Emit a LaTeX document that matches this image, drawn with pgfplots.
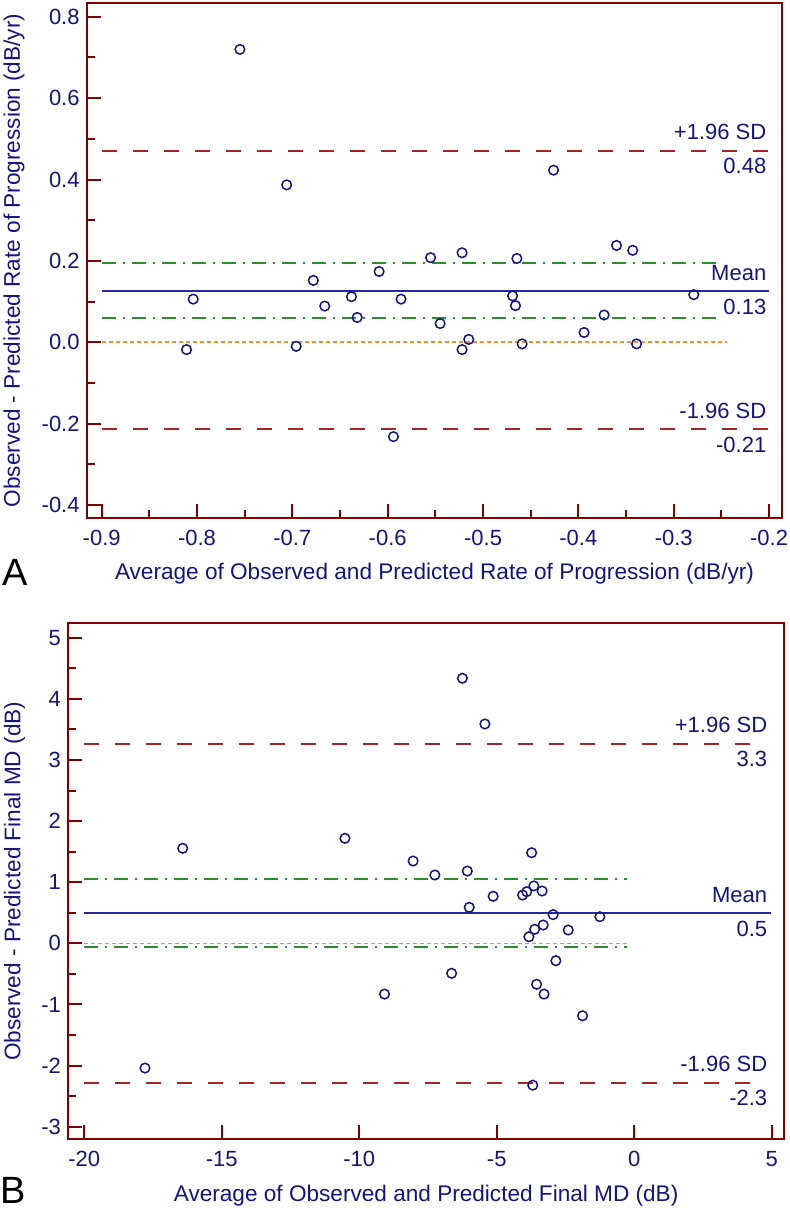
\documentclass[border=0pt]{standalone}
\usepackage{fontspec}
\setmainfont{Liberation Sans}
\usepackage{pgfplots}
\pgfplotsset{compat=1.18}

\definecolor{frame}{RGB}{128,0,0}
\definecolor{navy}{RGB}{20,20,128}
\definecolor{sdred}{RGB}{165,35,35}
\definecolor{meanblue}{RGB}{40,40,160}
\definecolor{cigreen}{RGB}{45,140,45}
\definecolor{zeroorange}{RGB}{255,140,40}

\pgfplotsset{
  ba/.style={
    scale only axis,
    clip=false,
    axis line style={draw=frame, line width=1pt},
    every tick/.style={draw=frame, line width=1pt},
    tick align=inside, tick pos=left,
    major tick length=7pt, minor tick length=4pt,
    /pgf/number format/assume math mode=true,
    tick label style={text=navy, font=\fontsize{11}{13}\selectfont, inner sep=0pt},
    yticklabel style={anchor=east, xshift=-3.5pt},
    label style={text=navy, font=\fontsize{11.3}{13}\selectfont, inner sep=0pt},
  },
}
\tikzset{
  sd/.style={sdred, line width=0.85pt, dash pattern=on 7.5pt off 8pt},
  mn/.style={meanblue, line width=1.1pt},
  ci/.style={cigreen, line width=0.85pt, dash pattern=on 7pt off 3.5pt on 1pt off 3.5pt},
  zr/.style={zeroorange, line width=0.85pt, dash pattern=on 2pt off 1.5pt},
  up/.style={anchor=base east, inner sep=0pt, yshift=5.5pt, text=navy, font=\fontsize{11}{13}\selectfont},
  dn/.style={anchor=base east, inner sep=0pt, yshift=-11.5pt, text=navy, font=\fontsize{11}{13}\selectfont},
}
\pgfplotsset{
  pts/.style={only marks, mark=o, mark size=2.4pt, mark options={navy, line width=0.75pt}},
}

\begin{document}
\begin{tikzpicture}
\useasboundingbox (0,0) rectangle (394.5pt,-604pt);

% panel A
\begin{axis}[ba,
  at={(43.5pt,-259pt)}, anchor=south west,
  width=347.5pt, height=257.5pt,
  xmin=-0.9154, xmax=-0.1864, ymin=-0.432, ymax=0.834,
  xtick={-0.9,-0.8,...,-0.2}, minor x tick num=1,
  ytick={-0.4,-0.2,0,0.2,0.4,0.6,0.8}, minor y tick num=1,
  xticklabel style={anchor=base, yshift=-13.5pt, /pgf/number format/.cd, fixed, fixed zerofill, precision=1},
  yticklabel style={/pgf/number format/.cd, fixed, fixed zerofill, precision=1},
  xlabel={Average of Observed and Predicted Rate of Progression (dB/yr)},
  ylabel={Observed - Predicted Rate of Progression (dB/yr)},
  xlabel style={at={(axis description cs:0.5,-0.119)}, anchor=base},
  ylabel style={at={(axis description cs:-0.0964,0.5)}, anchor=base},
]
\addplot[zr] coordinates {(-0.9,0) (-0.244,0)};
\addplot[ci] coordinates {(-0.9,0.195) (-0.253,0.195)};
\addplot[ci] coordinates {(-0.9,0.059) (-0.253,0.059)};
\addplot[sd] coordinates {(-0.9,0.4706) (-0.2,0.4706)};
\addplot[sd] coordinates {(-0.9,-0.214) (-0.2,-0.214)};
\addplot[mn] coordinates {(-0.9,0.126) (-0.2,0.126)};
\addplot[pts] coordinates {
  (-0.755,0.720) (-0.706,0.387) (-0.426,0.423) (-0.804,0.106)
  (-0.811,-0.018) (-0.696,-0.010) (-0.678,0.152) (-0.666,0.089)
  (-0.638,0.112) (-0.632,0.061) (-0.609,0.174) (-0.586,0.106)
  (-0.594,-0.232) (-0.555,0.208) (-0.522,0.220) (-0.545,0.046)
  (-0.515,0.007) (-0.522,-0.018) (-0.4645,0.206) (-0.469,0.114)
  (-0.466,0.090) (-0.459,-0.004) (-0.394,0.024) (-0.373,0.067)
  (-0.360,0.238) (-0.343,0.226) (-0.339,-0.004) (-0.279,0.117)
};
\node[up] at (axis cs:-0.2025,0.4706) {+1.96 SD};
\node[dn] at (axis cs:-0.2025,0.4706) {0.48};
\node[up] at (axis cs:-0.2025,0.126) {Mean};
\node[dn] at (axis cs:-0.2025,0.126) {0.13};
\node[up] at (axis cs:-0.2025,-0.214) {-1.96 SD};
\node[dn] at (axis cs:-0.2025,-0.214) {-0.21};
\end{axis}

% panel B
\begin{axis}[ba,
  at={(34.15pt,-569.65pt)}, anchor=south west,
  width=357.85pt, height=258pt,
  xmin=-20.58, xmax=5.447, ymin=-3.206, ymax=5.236,
  xtick={-20,-15,...,5},
  ytick={-3,-2,...,5}, minor y tick num=1,
  xticklabel style={anchor=base, yshift=-13.7pt},
  xlabel={Average of Observed and Predicted Final MD (dB)},
  ylabel={Observed - Predicted Final MD (dB)},
  xlabel style={at={(axis description cs:0.5,-0.1209)}, anchor=base},
  ylabel style={at={(axis description cs:-0.0668,0.5)}, anchor=base},
]
\addplot[zr] coordinates {(-20,0) (-0.28,0)};
\addplot[ci] coordinates {(-20,1.052) (-0.28,1.052)};
\addplot[ci] coordinates {(-20,-0.055) (-0.28,-0.055)};
\addplot[sd] coordinates {(-20,3.262) (4.68,3.262)};
\addplot[sd] coordinates {(-20,-2.28) (4.68,-2.28)};
\addplot[mn] coordinates {(-20,0.491) (4.96,0.491)};
\addplot[pts] coordinates {
  (-17.79,-2.04) (-16.42,1.555) (-10.52,1.718) (-9.08,-0.83)
  (-8.04,1.347) (-7.25,1.118) (-6.64,-0.49) (-6.25,4.337)
  (-6.07,1.183) (-6.0,0.589) (-5.43,3.589) (-5.13,0.77)
  (-4.06,0.79) (-3.91,0.845) (-3.65,0.94) (-3.35,0.856)
  (-3.73,1.483) (-2.95,0.47) (-1.25,0.436) (-3.31,0.30)
  (-3.62,0.23) (-3.83,0.108) (-2.40,0.218) (-2.85,-0.284)
  (-3.55,-0.67) (-3.28,-0.83) (-1.88,-1.185) (-3.69,-2.32)
};
\node[up] at (axis cs:4.85,3.262) {+1.96 SD};
\node[dn] at (axis cs:4.85,3.262) {3.3};
\node[up] at (axis cs:4.85,0.491) {Mean};
\node[dn] at (axis cs:4.85,0.491) {0.5};
\node[up] at (axis cs:4.85,-2.28) {-1.96 SD};
\node[dn] at (axis cs:4.85,-2.28) {-2.3};
\end{axis}

\node[anchor=base west, inner sep=0pt, font=\fontsize{19}{22}\selectfont] at (1pt,-292.5pt) {A};
\node[anchor=base west, inner sep=0pt, font=\fontsize{19}{22}\selectfont] at (0pt,-601.5pt) {B};
\end{tikzpicture}
\end{document}
